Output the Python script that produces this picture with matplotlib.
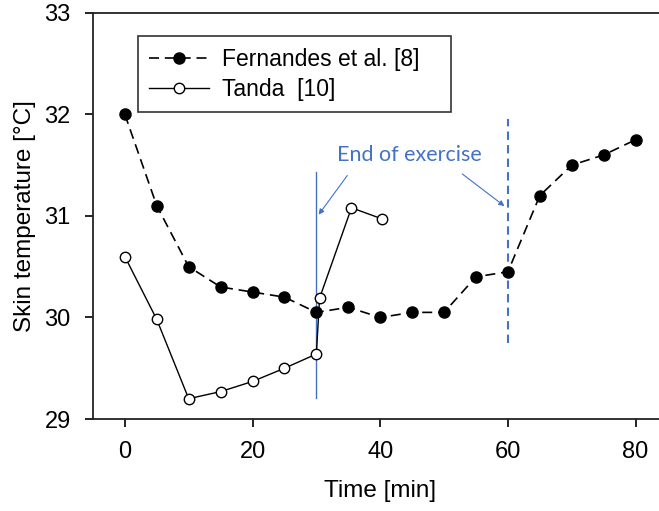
import numpy as np
import matplotlib
matplotlib.use('Agg')
import matplotlib.pyplot as plt

plt.rcParams['font.family'] = ['Liberation Sans', 'DejaVu Sans']

# Fernandes et al. [8]
fern_t = [0, 5, 10, 15, 20, 25, 30, 35, 40, 45, 50, 55, 60, 65, 70, 75, 80]
fern_temp = [32.0, 31.1, 30.5, 30.3, 30.25, 30.2, 30.05, 30.1, 30.0, 30.05,
             30.05, 30.4, 30.45, 31.2, 31.5, 31.6, 31.75]

# Tanda [10]
tanda_t = [0, 5, 10, 15, 20, 25, 30, 30.5, 35.5, 40.3]
tanda_temp = [30.6, 29.98, 29.2, 29.27, 29.37, 29.5, 29.64, 30.19, 31.08, 30.97]

blue = '#4472C4'

fig = plt.figure(figsize=(6.59, 5.11), dpi=100)
ax = fig.add_axes([0.141, 0.180, 0.87, 0.795])

ax.plot(fern_t, fern_temp, color='black', ls=(0, (6, 3.5)), lw=1.2,
        marker='o', ms=8, mfc='black', mec='black', label='Fernandes et al. [8]   ')
ax.plot(tanda_t, tanda_temp, color='black', ls='-', lw=1.0,
        marker='o', ms=7.5, mfc='white', mec='black', mew=1.0, label='Tanda  [10]')

# end of exercise markers
ax.plot([30, 30], [29.21, 31.43], color=blue, lw=1.0, zorder=1)
ax.plot([60, 60], [29.75, 31.95], color=blue, lw=1.5, ls=(0, (4, 2.5)), zorder=1)
ax.text(44.5, 31.6, 'End of exercise', color=blue, fontsize=15.5,
        family=['Lato', 'DejaVu Sans'], ha='center', va='center')
ax.annotate('', xy=(30.1, 30.99), xytext=(35.1, 31.42),
            arrowprops=dict(arrowstyle='-|>', color=blue, lw=0.8, mutation_scale=8))
ax.annotate('', xy=(59.8, 31.08), xytext=(52.5, 31.43),
            arrowprops=dict(arrowstyle='-|>', color=blue, lw=0.8, mutation_scale=8))

ax.set_xlim(-5, 84.8)
ax.set_ylim(29, 33)
ax.set_xticks([0, 20, 40, 60, 80])
ax.set_yticks([29, 30, 31, 32, 33])
ax.spines['right'].set_visible(False)
for s in ['left', 'bottom', 'top']:
    ax.spines[s].set_linewidth(1.3)
    ax.spines[s].set_color('#222222')
ax.tick_params(direction='out', length=6, width=1.2, labelsize=17, pad=10)

ax.set_xlabel('Time [min]', fontsize=17.5, labelpad=12)
ax.set_ylabel('Skin temperature [°C]', fontsize=17.5, labelpad=6)

leg = ax.legend(loc='upper left', bbox_to_anchor=(0.058, 0.97), fontsize=16.5,
                frameon=True, fancybox=False, edgecolor='black', handlelength=2.6,
                handletextpad=0.6, borderpad=0.5, labelspacing=0.3)
leg.get_frame().set_linewidth(1.2)

fig.savefig('out.png', dpi=100)
